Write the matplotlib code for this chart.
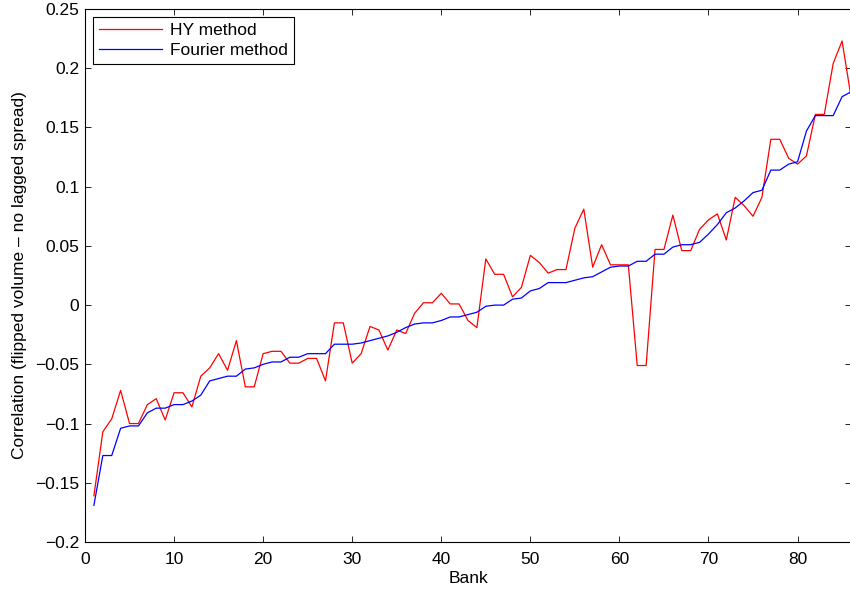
import numpy as np
import matplotlib
matplotlib.use('Agg')
import matplotlib.pyplot as plt
from matplotlib.ticker import FuncFormatter

# -----------------------------------------------------------------------------
# donnees
# -----------------------------------------------------------------------------
bank = np.arange(1, 87)

hy = [-0.161, -0.107, -0.096, -0.072, -0.100, -0.100, -0.084, -0.079, -0.097, -0.074,
      -0.074, -0.086, -0.060, -0.053, -0.041, -0.055, -0.030, -0.069, -0.069, -0.041,
      -0.039, -0.039, -0.049, -0.049, -0.045, -0.045, -0.064, -0.015, -0.015, -0.049,
      -0.041, -0.018, -0.021, -0.038, -0.021, -0.024, -0.007, 0.002, 0.002, 0.010,
      0.001, 0.001, -0.013, -0.019, 0.039, 0.026, 0.026, 0.007, 0.015, 0.042,
      0.036, 0.027, 0.030, 0.030, 0.065, 0.081, 0.032, 0.051, 0.034, 0.034,
      0.034, -0.051, -0.051, 0.047, 0.047, 0.076, 0.046, 0.046, 0.064, 0.072,
      0.077, 0.055, 0.091, 0.084, 0.075, 0.091, 0.140, 0.140, 0.124, 0.119,
      0.126, 0.161, 0.161, 0.204, 0.223, 0.176]

fourier = [-0.169, -0.127, -0.127, -0.104, -0.102, -0.102, -0.091, -0.087, -0.087, -0.084,
           -0.084, -0.081, -0.076, -0.064, -0.062, -0.060, -0.060, -0.054, -0.053, -0.050,
           -0.048, -0.048, -0.044, -0.044, -0.041, -0.041, -0.041, -0.033, -0.033, -0.033,
           -0.032, -0.030, -0.028, -0.026, -0.023, -0.019, -0.016, -0.015, -0.015, -0.013,
           -0.010, -0.010, -0.008, -0.006, -0.001, 0.000, 0.000, 0.005, 0.006, 0.012,
           0.014, 0.019, 0.019, 0.019, 0.021, 0.023, 0.024, 0.028, 0.032, 0.033,
           0.033, 0.037, 0.037, 0.043, 0.043, 0.049, 0.051, 0.051, 0.053, 0.060,
           0.068, 0.078, 0.082, 0.088, 0.095, 0.097, 0.114, 0.114, 0.119, 0.121,
           0.147, 0.160, 0.160, 0.160, 0.176, 0.180]

xticks = [0, 10, 20, 30, 40, 50, 60, 70, 80]
yticks = [-0.2, -0.15, -0.1, -0.05, 0, 0.05, 0.1, 0.15, 0.2, 0.25]

# -----------------------------------------------------------------------------
# graphe
# -----------------------------------------------------------------------------
plt.rcParams['font.family'] = ['Liberation Sans', 'DejaVu Sans']
plt.rcParams['font.size'] = 12.5

fig = plt.figure(figsize=(8.5, 5.92), dpi=100)
ax = fig.add_axes([85/850, 1 - 542/592, 766/850, (542 - 9)/592])

ax.plot(bank, hy, color='#ff0000', lw=0.9, label='HY method')
ax.plot(bank, fourier, color='#0000ff', lw=0.9, label='Fourier method')

ax.set_xlim(0, 86)
ax.set_ylim(-0.2, 0.25)
ax.set_xticks(xticks)
ax.set_yticks(yticks)
ax.yaxis.set_major_formatter(FuncFormatter(lambda v, p: ('%g' % v).replace('-', '\u2212')))
ax.tick_params(direction='in', top=True, right=True, length=4, width=0.6, pad=4)
ax.tick_params(axis='x', pad=7)
for s in ax.spines.values():
    s.set_linewidth(0.8)

ax.set_xlabel('Bank', labelpad=3)
ax.set_ylabel('Correlation (flipped volume \u2013 no lagged spread)')
ax.yaxis.set_label_coords(-58/766, 0.5)

leg = ax.legend(loc='upper left', fancybox=False, edgecolor='black', framealpha=1,
                bbox_to_anchor=(8/766, 1 - 8/533), borderaxespad=0,
                handlelength=3.6, handletextpad=0.5, borderpad=0.35, labelspacing=0.25)
leg.get_frame().set_linewidth(0.8)

fig.savefig('out.png', dpi=100)
